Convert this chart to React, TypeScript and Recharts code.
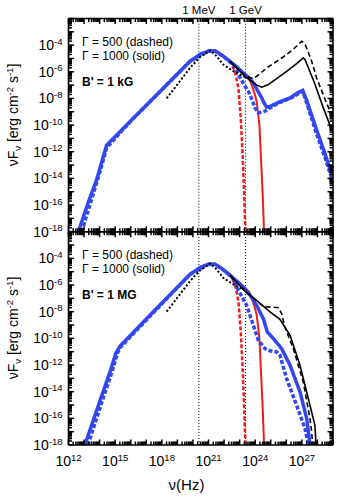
import React from "react";
import { LineChart, Line, XAxis, YAxis, ReferenceLine } from "recharts";

type Pt = [number, number];

// axes are log10(nu / Hz) and log10(nu F_nu / erg cm^-2 s^-1)
const xMajor = [12, 13, 14, 15, 16, 17, 18, 19, 20, 21, 22, 23, 24, 25, 26, 27, 28, 29];
const yMajor = [-18, -17, -16, -15, -14, -13, -12, -11, -10, -9, -8, -7, -6, -5, -4, -3, -2];
const xLabeled = [12, 15, 18, 21, 24, 27];
const yLabeled = [-18, -16, -14, -12, -10, -8, -6, -4];
const energyMarks = [
  { nu: 20.38, label: "1 MeV" },
  { nu: 23.38, label: "1 GeV" },
];

// black dotted, same in both panels
const observed: Pt[] = [
  [18.31, -7.99], [19.0, -6.95], [19.81, -5.71], [20.4, -4.95], [21.1, -4.38],
  [21.52, -4.83], [21.95, -5.46], [22.6, -5.96], [23.39, -6.42],
];

const redDashed: Pt[] = [
  [21.4, -4.42], [21.8, -4.7], [22.38, -5.21], [22.7, -5.96], [22.92, -7.21],
  [23.07, -9.46], [23.2, -12.46], [23.3, -15.46], [23.37, -18],
];

const redSolid: Pt[] = [
  [21.4, -4.42], [22.38, -5.21], [23.24, -6.09], [23.6, -6.5], [23.77, -6.96],
  [23.95, -7.6], [24.09, -8.21], [24.27, -9.96], [24.37, -12.46], [24.48, -15.21], [24.57, -18],
];

// B' = 1 kG
const kgBlueSolid: Pt[] = [
  [12.63, -18], [13.3, -15.7], [13.81, -14.1], [14.2, -12.5], [14.45, -11.5],
  [16.17, -9.49], [18.0, -7.35], [19.81, -5.21], [20.5, -4.65], [21.0, -4.45],
  [21.4, -4.42], [21.8, -4.7], [22.38, -5.21], [22.8, -5.6], [23.24, -6.09],
  [23.6, -6.45], [23.88, -6.84], [24.2, -7.5], [24.42, -7.96], [24.6, -8.4],
  [24.74, -8.66], [24.95, -8.59], [25.5, -8.3], [26.24, -7.96], [26.7, -7.6],
  [27.05, -7.4], [27.3, -8.1], [27.9, -10.2], [28.5, -12.2], [29, -14],
];
const kgBlueDashed: Pt[] = [
  [12.85, -18], [13.4, -15.9], [14.0, -13.6], [14.45, -11.7], [16.17, -9.49],
  [19.81, -5.21], [21.0, -4.45], [21.4, -4.42], [22.0, -4.9], [22.6, -5.5],
  [22.92, -6.21], [23.3, -7.0], [23.56, -7.46], [23.8, -8.1], [23.99, -8.71],
  [24.2, -9.09], [24.63, -8.96], [24.95, -8.71], [25.5, -8.35], [26.24, -8.0],
  [27.05, -7.45], [27.3, -8.3], [27.9, -10.5], [28.5, -12.5], [29, -14.3],
];
const kgBlackSolid: Pt[] = [
  [22.38, -5.21], [23.39, -6.4], [23.77, -6.71], [24.1, -7.0], [24.42, -7.16],
  [24.84, -6.96], [25.4, -6.5], [26.02, -5.96], [26.6, -5.45], [27.09, -4.96],
  [27.2, -5.08], [27.8, -6.8], [28.38, -8.71], [29, -10.6],
];
const kgBlackDashed: Pt[] = [
  [22.38, -5.21], [23.39, -6.33], [23.88, -6.53], [24.3, -6.15], [24.74, -5.71],
  [25.4, -5.2], [26.02, -4.71], [26.5, -4.25], [26.99, -3.71], [27.2, -3.91],
  [27.6, -5.1], [27.95, -6.46], [28.5, -8.1], [29, -9.5],
];

// B' = 1 MG
const mgBlueSolid: Pt[] = [
  [13.05, -18], [13.9, -15.1], [14.7, -12.4], [15.05, -11.1], [15.3, -10.6],
  [17.5, -7.95], [19.81, -5.2], [20.5, -4.65], [21.0, -4.45], [21.42, -4.45],
  [21.8, -4.72], [22.38, -5.27], [23.24, -6.15], [23.7, -6.8], [24.09, -7.52],
  [24.52, -8.52], [24.78, -9.52], [25.17, -10.02], [25.7, -10.77], [26.24, -12.02],
  [26.88, -14.02], [27.31, -16.02], [27.52, -18],
];
const mgBlueDashed: Pt[] = [
  [13.25, -18], [14.0, -15.3], [14.8, -12.5], [15.15, -11.1], [15.35, -10.65],
  [19.81, -5.2], [21.0, -4.45], [21.42, -4.45], [22.0, -4.9], [22.55, -5.45],
  [22.81, -6.15], [23.45, -7.52], [23.88, -9.02], [24.2, -10.15], [24.63, -10.77],
  [25.0, -10.95], [25.38, -11.02], [25.59, -11.27], [26.02, -13.02], [26.66, -15.02],
  [27.2, -16.77], [27.42, -18],
];
const mgBlackSolid: Pt[] = [
  [22.38, -5.27], [23.39, -6.52], [24.09, -7.15], [24.95, -8.02], [25.59, -8.57],
  [26.24, -9.77], [26.88, -12.02], [27.52, -15.02], [27.84, -16.52], [27.91, -18],
];
const mgBlackDashed: Pt[] = [
  [22.38, -5.27], [23.39, -6.5], [24.0, -7.1], [24.52, -7.6], [24.95, -7.65],
  [25.49, -7.7], [25.7, -8.15], [25.91, -9.15], [26.45, -10.77], [27.09, -13.27],
  [27.52, -16.02], [27.63, -17.02], [27.69, -18],
];

const FONT = "'Liberation Sans', Arial, Helvetica, sans-serif";
const BLUE = "#3347ee";
const RED = "#ee1c1c";

const rows = (pts: Pt[]) => pts.map(([x, y]) => ({ x, y }));

const withMinor = (major: number[]) => {
  const out: number[] = [];
  major.forEach((d, i) => {
    out.push(d);
    if (i < major.length - 1) for (let k = 2; k <= 9; k++) out.push(d + Math.log10(k));
  });
  return out;
};
const xTicks = withMinor(xMajor);
const yTicks = withMinor(yMajor);
const isMajor = (v: number) => Math.abs(v - Math.round(v)) < 1e-6;

// tick marks point into the plot; dir is +1 or -1
const xTickMark = (dir: number) => (p: any) => {
  const len = isMajor(p.payload.value) ? 5.5 : 3.5;
  return (
    <g>
      <line x1={p.x} x2={p.x} y1={p.y} y2={p.y + dir * len} stroke="#000" strokeWidth={1.5} />
    </g>
  );
};
const yTickMark = (dir: number) => (p: any) => {
  const len = isMajor(p.payload.value) ? 5.5 : 3.5;
  return (
    <g>
      <line x1={p.x} x2={p.x + dir * len} y1={p.y} y2={p.y} stroke="#000" strokeWidth={1.5} />
    </g>
  );
};
const xTickLabel = (p: any) => (
  <g>
    <text x={p.x} y={p.y + 21} textAnchor="middle" fontSize={14} fontFamily={FONT} fill="#000">
      10<tspan dy={-5.5} fontSize={9.5}>{Math.round(p.payload.value)}</tspan>
    </text>
  </g>
);
const yTickLabel = (p: any) => (
  <g>
    <text x={p.x - 6} y={p.y + 5} textAnchor="end" fontSize={14} fontFamily={FONT} fill="#000">
      10<tspan dy={-5.5} fontSize={9.5}>{Math.round(p.payload.value)}</tspan>
    </text>
  </g>
);

interface PanelProps {
  top: number;
  height: number;
  marginTop: number;
  xAxisHeight: number;
  showXLabels: boolean;
  showMarks: boolean;
  blueSolid: Pt[];
  blueDashed: Pt[];
  blackSolid: Pt[];
  blackDashed: Pt[];
}

const common = {
  type: "number" as const,
  allowDataOverflow: true,
  interval: 0 as const,
  tickSize: 0,
  tickMargin: 0,
  tickLine: false,
};
const frame = { stroke: "#000", strokeWidth: 1.6 };

const Panel: React.FC<PanelProps> = (props) => (
  <div style={{ position: "absolute", left: 0, top: props.top }}>
    <LineChart
      width={338}
      height={props.height}
      margin={{ top: props.marginTop - 4, right: 1, bottom: 0, left: 0 }}
    >
      <XAxis {...common} xAxisId="b" dataKey="x" domain={[12, 29]} ticks={xTicks} axisLine={frame} height={props.xAxisHeight} tick={xTickMark(-1)} />
      <XAxis {...common} xAxisId="t" orientation="top" dataKey="x" domain={[12, 29]} ticks={xTicks} axisLine={frame} height={4} tick={xTickMark(1)} />
      {props.showXLabels && (
        <XAxis {...common} xAxisId="lab" mirror dataKey="x" domain={[12, 29]} ticks={xLabeled} axisLine={false} height={30} tick={xTickLabel} />
      )}
      <YAxis {...common} yAxisId="l" dataKey="y" domain={[-18, -2]} ticks={yTicks} axisLine={frame} width={68.5} tick={yTickMark(1)} />
      <YAxis {...common} yAxisId="lab" mirror dataKey="y" domain={[-18, -2]} ticks={yLabeled} axisLine={false} width={30} tick={yTickLabel} />
      <YAxis {...common} yAxisId="r" orientation="right" dataKey="y" domain={[-18, -2]} ticks={yTicks} axisLine={frame} width={4} tick={yTickMark(-1)} />
      {energyMarks.map((m) => (
        <ReferenceLine
          key={m.label}
          xAxisId="b"
          yAxisId="l"
          x={m.nu}
          stroke="#000"
          strokeWidth={1}
          strokeDasharray="1 2"
          label={
            props.showMarks
              ? { value: m.label, position: "top", offset: 5, fontSize: 11.5, fontFamily: FONT, fill: "#000" }
              : undefined
          }
        />
      ))}
      <Line xAxisId="b" yAxisId="l" data={rows(redDashed)} dataKey="y" stroke={RED} strokeWidth={2.5} strokeDasharray="4 2" dot={false} isAnimationActive={false} />
      <Line xAxisId="b" yAxisId="l" data={rows(redSolid)} dataKey="y" stroke={RED} strokeWidth={2} dot={false} isAnimationActive={false} />
      <Line xAxisId="b" yAxisId="l" data={rows(props.blueSolid)} dataKey="y" stroke={BLUE} strokeWidth={3.5} dot={false} isAnimationActive={false} />
      <Line xAxisId="b" yAxisId="l" data={rows(props.blueDashed)} dataKey="y" stroke={BLUE} strokeWidth={3.5} strokeDasharray="4 2" dot={false} isAnimationActive={false} />
      <Line xAxisId="b" yAxisId="l" data={rows(props.blackSolid)} dataKey="y" stroke="#000" strokeWidth={1.6} dot={false} isAnimationActive={false} />
      <Line xAxisId="b" yAxisId="l" data={rows(props.blackDashed)} dataKey="y" stroke="#000" strokeWidth={1.6} strokeDasharray="5 3" dot={false} isAnimationActive={false} />
      <Line xAxisId="b" yAxisId="l" data={rows(observed)} dataKey="y" stroke="#000" strokeWidth={2} strokeDasharray="2 2" dot={false} isAnimationActive={false} />
    </LineChart>
  </div>
);

const YTitle: React.FC<{ cy: number }> = ({ cy }) => (
  <text
    x={17.5}
    y={cy}
    transform={`rotate(-90, 17.5, ${cy})`}
    textAnchor="middle"
    fontSize={14}
    fontFamily={FONT}
    fill="#000"
  >
    νF<tspan dy={3} fontSize={9.5}>ν</tspan>
    <tspan dy={-3}> [erg cm</tspan>
    <tspan dy={-5} fontSize={9.5}>-2</tspan>
    <tspan dy={5}> s</tspan>
    <tspan dy={-5} fontSize={9.5}>-1</tspan>
    <tspan dy={5}>]</tspan>
  </text>
);

const Notes: React.FC<{ dy: number; field: string }> = ({ dy, field }) => (
  <g fontFamily={FONT} fontSize={12} fill="#000">
    <text x={82} y={46 + dy}>Γ = 500 (dashed)</text>
    <text x={82} y={59.5 + dy}>Γ = 1000 (solid)</text>
    <text x={82} y={86 + dy} fontWeight="bold">{field}</text>
  </g>
);

export default function App() {
  return (
    <div style={{ position: "absolute", left: 0, top: 0, width: 338, height: 497, background: "#fff" }}>
      <Panel
        top={0}
        height={240}
        marginTop={18.5}
        xAxisHeight={8.3}
        showXLabels={false}
        showMarks={true}
        blueSolid={kgBlueSolid}
        blueDashed={kgBlueDashed}
        blackSolid={kgBlackSolid}
        blackDashed={kgBlackDashed}
      />
      <Panel
        top={224}
        height={273}
        marginTop={7.7}
        xAxisHeight={52}
        showXLabels={true}
        showMarks={false}
        blueSolid={mgBlueSolid}
        blueDashed={mgBlueDashed}
        blackSolid={mgBlackSolid}
        blackDashed={mgBlackDashed}
      />
      <svg width={338} height={497} style={{ position: "absolute", left: 0, top: 0, pointerEvents: "none" }}>
        <Notes dy={0} field="B' = 1 kG" />
        <Notes dy={213.2} field="B' = 1 MG" />
        <YTitle cy={115} />
        <YTitle cy={328} />
        <text x={186.5} y={490} textAnchor="middle" fontSize={15} fontFamily={FONT} fill="#000">
          ν(Hz)
        </text>
      </svg>
    </div>
  );
}
